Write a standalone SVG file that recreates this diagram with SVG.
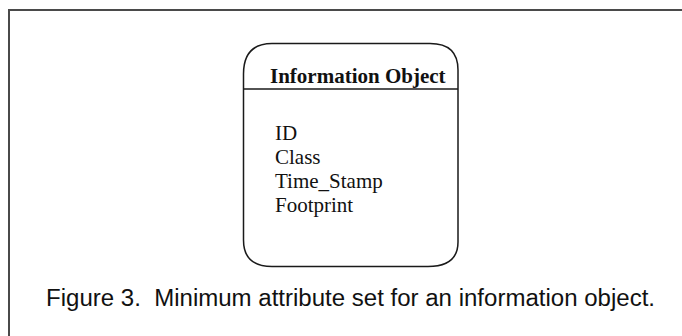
<svg xmlns="http://www.w3.org/2000/svg" width="682" height="336" viewBox="0 0 682 336">
<style>
.frame{fill:none;stroke:#4a4a4a;stroke-width:2}
.box{fill:#fff;stroke:#1a1a1a;stroke-width:1.5}
.title{font-family:"Liberation Serif","Times New Roman",serif;font-weight:bold;font-size:21px;fill:#111}
.attr{font-family:"Liberation Serif","Times New Roman",serif;font-size:21px;fill:#111}
.cap{font-family:"Liberation Sans",Arial,sans-serif;font-size:23px;fill:#111}
</style>
<rect width="682" height="336" fill="#fff"/>
<path class="frame" d="M9,336 V10 H682"/>
<g id="information-object">
<path class="box" d="M243.5,74 Q243.5,43.5 272,43.5 H430 Q458,43.5 458,70 V242 Q458,266.5 428,266.5 H272 Q243.5,266.5 243.5,240 Z"/>
<line x1="243.5" y1="89" x2="458" y2="89" stroke="#1a1a1a" stroke-width="1.5"/>
<text class="title" x="270" y="83">Information Object</text>
<text class="attr" x="275" y="140">ID</text>
<text class="attr" x="275" y="164">Class</text>
<text class="attr" x="275" y="188">Time_Stamp</text>
<text class="attr" x="275" y="212">Footprint</text>
</g>
<g id="connectors"/>
<text class="cap" x="46" y="306" textLength="609" lengthAdjust="spacingAndGlyphs">Figure 3.&#160; Minimum attribute set for an information object.</text>
</svg>
